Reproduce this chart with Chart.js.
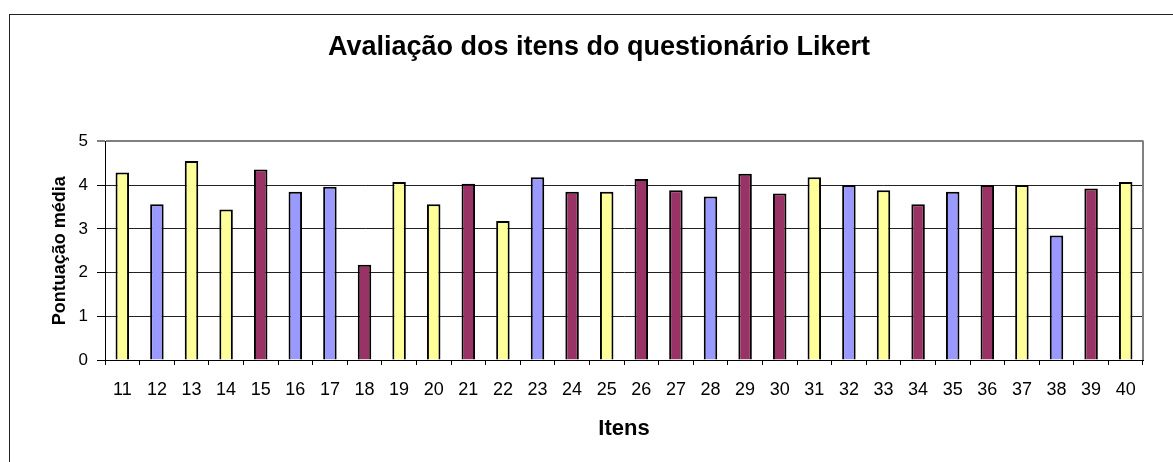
<!DOCTYPE html>
<html>
<head>
<meta charset="utf-8">
<script src="https://cdn.jsdelivr.net/npm/chart.js@4/dist/chart.umd.min.js"></script>
<style>
  body { margin: 0; background: #fff; }
  canvas { display: block; }
</style>
</head>
<body>
<canvas id="myChart" width="1173" height="462"></canvas>
<script>
const items = ["11", "12", "13", "14", "15", "16", "17", "18", "19", "20",
    "21", "22", "23", "24", "25", "26", "27", "28", "29", "30",
    "31", "32", "33", "34", "35", "36", "37", "38", "39", "40"];
const scores = [4.29, 3.56, 4.55, 3.44, 4.36, 3.85, 3.96, 2.18, 4.07, 3.56,
    4.03, 3.18, 4.18, 3.85, 3.85, 4.14, 3.88, 3.74, 4.26, 3.81,
    4.18, 4.0, 3.88, 3.56, 3.85, 4.0, 4.0, 2.85, 3.92, 4.07];
// grupo de cada item (0, 1, 2)
const groups = [0, 1, 0, 0, 2, 1, 1, 2, 0, 0,
    2, 0, 1, 2, 0, 2, 2, 1, 2, 2,
    0, 1, 0, 2, 1, 2, 0, 1, 2, 0];
const yTicks = [0, 1, 2, 3, 4, 5];

const palette = ["#FFFF99", "#9999FF", "#993366"];
const fontFamily = "'Liberation Sans', Arial, sans-serif";

const ctx = document.getElementById("myChart");

const frame = {
    id: "frame",
    beforeDraw(chart) {
        const c = chart.ctx;
        c.save();
        c.fillStyle = "#fff";
        c.fillRect(0, 0, chart.width, chart.height);
        c.strokeStyle = "#222";
        c.lineWidth = 1;
        c.strokeRect(9.5, 14.5, 3000, 3000);
        c.restore();
    },
    afterDatasetsDraw(chart) {
        // borda direita cinza da área do gráfico
        const a = chart.chartArea;
        const c = chart.ctx;
        c.save();
        c.strokeStyle = "#808080";
        c.lineWidth = 2;
        c.beginPath();
        c.moveTo(Math.round(a.right), a.top - 1);
        c.lineTo(Math.round(a.right), a.bottom);
        c.stroke();
        c.restore();
    }
};

const myChart = new Chart(ctx, {
    type: "bar",
    data: {
        labels: items,
        datasets: [{
            label: "Pontuação média",
            data: scores,
            backgroundColor: groups.map(g => palette[g]),
            borderColor: "#000",
            borderWidth: 2,
            barPercentage: 0.39,
            categoryPercentage: 1
        }]
    },
    options: {
        responsive: false,
        animation: false,
        layout: { padding: { left: 10, right: -15, top: 0, bottom: 0 } },
        plugins: {
            legend: { display: false },
            tooltip: { enabled: false },
            title: {
                display: true,
                text: "Avaliação dos itens do questionário Likert",
                color: "#000",
                font: { family: fontFamily, size: 27, weight: "bold" },
                padding: { top: 31, bottom: 78 }
            }
        },
        scales: {
            x: {
                grid: {
                    display: true,
                    drawOnChartArea: false,
                    drawTicks: true,
                    tickLength: 5,
                    tickColor: "#000",
                    offset: true
                },
                border: { color: "#000", width: 1 },
                ticks: {
                    color: "#000",
                    font: { family: fontFamily, size: 18 },
                    padding: 14,
                    maxRotation: 0,
                    autoSkip: false
                },
                title: {
                    display: true,
                    text: "Itens",
                    color: "#000",
                    font: { family: fontFamily, size: 22, weight: "bold" },
                    padding: { top: 0, bottom: 20 }
                },
                afterFit(scale) { scale.height = 102; }
            },
            y: {
                min: 0,
                max: 5,
                afterBuildTicks(scale) { scale.ticks = yTicks.map(v => ({ value: v })); },
                grid: {
                    color: c => c.tick && c.tick.value === 5 ? "#808080" : "#222",
                    lineWidth: c => c.tick && c.tick.value === 5 ? 2 : 1,
                    tickColor: "#000",
                    tickWidth: 1,
                    tickLength: 8,
                    drawTicks: true
                },
                border: { color: "#000", width: 1 },
                ticks: {
                    color: "#000",
                    font: { family: fontFamily, size: 17 },
                    padding: 9
                },
                title: {
                    display: true,
                    text: "Pontuação média",
                    color: "#000",
                    font: { family: fontFamily, size: 18, weight: "bold" },
                    padding: { top: 39, bottom: 0 }
                },
                afterFit(scale) { scale.width = 95; }
            },
            // espaço vazio à direita da área do gráfico
            yRight: {
                position: "right",
                min: 0,
                max: 5,
                grid: { display: false, drawOnChartArea: false },
                border: { display: false },
                ticks: { display: false },
                afterFit(scale) { scale.width = 45; }
            }
        }
    },
    plugins: [frame]
});
</script>
</body>
</html>
